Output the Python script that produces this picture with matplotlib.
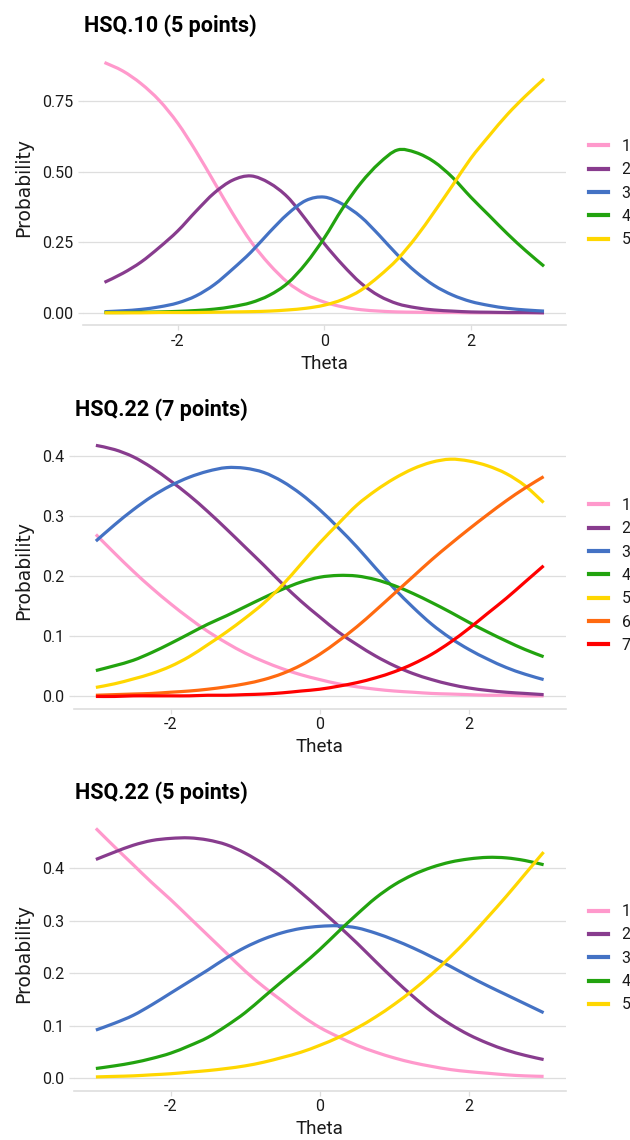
"""Category response curves (probability vs theta) for three HSQ items."""
import matplotlib
matplotlib.use("Agg")
import matplotlib.pyplot as plt
import numpy as np
from matplotlib.lines import Line2D
from matplotlib.path import Path
from matplotlib.patches import PathPatch

plt.rcParams['font.family'] = ['Roboto', 'DejaVu Sans']

# theta grid the curves were read at
theta = [-3.0, -2.75, -2.5, -2.25, -2.0, -1.75, -1.5, -1.25, -1.0, -0.75, -0.5, -0.25,
         0.0, 0.25, 0.5, 0.75, 1.0, 1.25, 1.5, 1.75, 2.0, 2.25, 2.5, 2.75, 3.0]

# HSQ.10 (5 points)
hsq10_c1 = [0.887, 0.857, 0.812, 0.752, 0.672, 0.572, 0.462, 0.352, 0.252, 0.172, 0.108, 0.065,
            0.038, 0.021, 0.011, 0.006, 0.003, 0.002, 0.001, 0.001, 0.0, 0.0, 0.0, 0.0, 0.0]
hsq10_c2 = [0.108, 0.14, 0.18, 0.232, 0.29, 0.36, 0.425, 0.47, 0.485, 0.46, 0.41, 0.33,
            0.245, 0.17, 0.105, 0.06, 0.032, 0.018, 0.01, 0.006, 0.003, 0.002, 0.001, 0.001, 0.0]
hsq10_c3 = [0.004, 0.007, 0.012, 0.021, 0.035, 0.06, 0.1, 0.155, 0.215, 0.285, 0.35, 0.398,
            0.41, 0.385, 0.34, 0.275, 0.205, 0.145, 0.097, 0.063, 0.04, 0.026, 0.016, 0.01, 0.006]
hsq10_c4 = [0.001, 0.001, 0.002, 0.003, 0.005, 0.008, 0.013, 0.022, 0.036, 0.062, 0.105, 0.175,
            0.265, 0.37, 0.46, 0.53, 0.577, 0.568, 0.535, 0.48, 0.41, 0.345, 0.28, 0.22, 0.165]
hsq10_c5 = [0.0, 0.0, 0.0, 0.001, 0.001, 0.001, 0.002, 0.003, 0.004, 0.006, 0.01, 0.016,
            0.027, 0.047, 0.08, 0.13, 0.19, 0.267, 0.357, 0.451, 0.547, 0.627, 0.703, 0.769, 0.829]

# HSQ.22 (7 points)
hsq22_7_c1 = [0.269, 0.238, 0.208, 0.18, 0.154, 0.13, 0.108, 0.089, 0.072, 0.058, 0.046, 0.036,
              0.028, 0.021, 0.016, 0.012, 0.009, 0.007, 0.005, 0.004, 0.003, 0.002, 0.002, 0.001, 0.001]
hsq22_7_c2 = [0.417, 0.41, 0.398, 0.38, 0.358, 0.334, 0.307, 0.278, 0.248, 0.218, 0.187, 0.158,
              0.132, 0.107, 0.086, 0.067, 0.051, 0.038, 0.028, 0.02, 0.014, 0.01, 0.007, 0.005, 0.003]
hsq22_7_c3 = [0.258, 0.285, 0.31, 0.332, 0.35, 0.364, 0.374, 0.38, 0.379, 0.372, 0.357, 0.336,
              0.31, 0.28, 0.248, 0.213, 0.179, 0.148, 0.12, 0.097, 0.078, 0.062, 0.048, 0.037, 0.028]
hsq22_7_c4 = [0.043, 0.051, 0.06, 0.073, 0.088, 0.104, 0.12, 0.134, 0.149, 0.164, 0.178, 0.19,
              0.198, 0.201, 0.2, 0.194, 0.184, 0.171, 0.156, 0.14, 0.123, 0.107, 0.092, 0.078, 0.066]
hsq22_7_c5 = [0.015, 0.021, 0.029, 0.038, 0.05, 0.066, 0.086, 0.107, 0.13, 0.155, 0.185, 0.22,
              0.255, 0.287, 0.318, 0.342, 0.362, 0.378, 0.389, 0.394, 0.391, 0.383, 0.37, 0.35, 0.322]
hsq22_7_c6 = [0.002, 0.003, 0.004, 0.005, 0.007, 0.009, 0.012, 0.016, 0.021, 0.028, 0.038, 0.052,
              0.07, 0.092, 0.116, 0.143, 0.171, 0.199, 0.227, 0.253, 0.278, 0.302, 0.325, 0.346, 0.365]
hsq22_7_c7 = [0.0, 0.0, 0.001, 0.001, 0.001, 0.001, 0.002, 0.002, 0.003, 0.004, 0.006, 0.009,
              0.012, 0.017, 0.023, 0.031, 0.041, 0.054, 0.07, 0.09, 0.113, 0.138, 0.163, 0.19, 0.217]

# HSQ.22 (5 points)
hsq22_5_c1 = [0.475, 0.44, 0.406, 0.372, 0.34, 0.306, 0.272, 0.238, 0.204, 0.174, 0.147, 0.12,
              0.097, 0.079, 0.063, 0.05, 0.039, 0.03, 0.023, 0.017, 0.013, 0.01, 0.007, 0.005, 0.004]
hsq22_5_c2 = [0.416, 0.43, 0.443, 0.452, 0.456, 0.457, 0.453, 0.444, 0.428, 0.407, 0.382, 0.353,
              0.322, 0.29, 0.257, 0.222, 0.188, 0.156, 0.127, 0.103, 0.083, 0.067, 0.054, 0.044, 0.036]
hsq22_5_c3 = [0.092, 0.105, 0.12, 0.14, 0.162, 0.184, 0.206, 0.229, 0.249, 0.265, 0.277, 0.285,
              0.289, 0.29, 0.286, 0.276, 0.263, 0.248, 0.231, 0.213, 0.194, 0.176, 0.159, 0.142, 0.125]
hsq22_5_c4 = [0.019, 0.024, 0.03, 0.038, 0.048, 0.062, 0.078, 0.1, 0.125, 0.155, 0.185, 0.214,
              0.245, 0.279, 0.312, 0.343, 0.368, 0.387, 0.401, 0.411, 0.417, 0.42, 0.419, 0.414, 0.406]
hsq22_5_c5 = [0.003, 0.004, 0.005, 0.007, 0.009, 0.012, 0.015, 0.019, 0.024, 0.031, 0.04, 0.05,
              0.063, 0.078, 0.096, 0.117, 0.141, 0.168, 0.198, 0.231, 0.267, 0.306, 0.346, 0.388, 0.43]

titles = ['HSQ.10 (5 points)', 'HSQ.22 (7 points)', 'HSQ.22 (5 points)']
category_colors = ['#FF99CC', '#883C8E', '#4472C4', '#22A30F', '#FFD700', '#FF6A10', '#FF0000']
x_ticks = [-2, 0, 2]
y_ticks_p1 = [0.0, 0.25, 0.5, 0.75]
y_labels_p1 = ['0.00', '0.25', '0.50', '0.75']
y_ticks_p23 = [0.0, 0.1, 0.2, 0.3, 0.4]
y_labels_p23 = ['0.0', '0.1', '0.2', '0.3', '0.4']

W, H = 630.0, 1140.0
grid_col = '#DEDEDE'
text_col = '#1A1A1A'

fig = plt.figure(figsize=(W / 100, H / 100), dpi=100)


def px_axes(left, top, right, bottom):
    # pixel box (from top-left) -> figure axes
    return fig.add_axes([left / W, 1 - bottom / H, (right - left) / W, (bottom - top) / H])


def smooth_path(x, y):
    # smooth (catmull-rom style bezier) line through the read points, like ggplot's dense curves
    p = np.column_stack([x, y])
    ext = np.vstack([p[0], p, p[-1]])
    verts = [p[0]]
    codes = [Path.MOVETO]
    for i in range(len(p) - 1):
        p0, p1, p2, p3 = ext[i], ext[i + 1], ext[i + 2], ext[i + 3]
        verts += [p1 + (p2 - p0) / 6.0, p2 - (p3 - p1) / 6.0, p2]
        codes += [Path.CURVE4] * 3
    return Path(verts, codes)


def draw_panel(ax, curves, yticks, ylabels, title, title_x, title_y, xlab_y, legend_y):
    ymax = max(max(c) for c in curves)
    for i, c in enumerate(curves):
        ax.add_patch(PathPatch(smooth_path(theta, c), fill=False, edgecolor=category_colors[i],
                               lw=2.3, capstyle='butt', joinstyle='round'))
    ax.set_xlim(-3.3, 3.3)
    ax.set_ylim(-0.05 * ymax, 1.05 * ymax)
    ax.set_xticks(x_ticks)
    ax.set_xticklabels([str(t) for t in x_ticks])
    ax.set_yticks(yticks)
    ax.set_yticklabels(ylabels)
    ax.grid(axis='y', color=grid_col, lw=0.9)
    ax.set_axisbelow(True)
    for s in ['top', 'right', 'left']:
        ax.spines[s].set_visible(False)
    ax.spines['bottom'].set_color(grid_col)
    ax.spines['bottom'].set_linewidth(1.2)
    ax.tick_params(axis='both', colors=grid_col, labelcolor=text_col, labelsize=11.5, length=3.6, width=0.9)
    ax.tick_params(axis='x', pad=2.5)
    ax.tick_params(axis='y', pad=3)
    # texts
    bb = ax.get_position()
    fig.text(title_x / W, 1 - title_y / H, title, fontsize=15.5, fontweight='bold', color='black',
             ha='left', va='center')
    fig.text((bb.x0 + bb.x1) / 2, 1 - xlab_y / H, 'Theta', fontsize=13.5, color=text_col,
             ha='center', va='center')
    fig.text(24 / W, (bb.y0 + bb.y1) / 2, 'Probability', fontsize=13.5, color=text_col,
             rotation=90, ha='center', va='center', family='DejaVu Sans')
    handles = [Line2D([], [], color=category_colors[i], lw=3.0) for i in range(len(curves))]
    ax.legend(handles, [str(i + 1) for i in range(len(curves))], loc='center left',
              bbox_to_anchor=(589 / W, 1 - legend_y / H), bbox_transform=fig.transFigure,
              frameon=False, fontsize=11.5, handlelength=1.2, handletextpad=0.85,
              labelspacing=0.52, borderpad=0, borderaxespad=0, labelcolor=text_col)


ax1 = px_axes(82.5, 50, 566, 325.3)
draw_panel(ax1, [hsq10_c1, hsq10_c2, hsq10_c3, hsq10_c4, hsq10_c5], y_ticks_p1, y_labels_p1,
           titles[0], 83.5, 26, 364, 193)

ax2 = px_axes(73.5, 432.8, 566, 709)
draw_panel(ax2, [hsq22_7_c1, hsq22_7_c2, hsq22_7_c3, hsq22_7_c4, hsq22_7_c5, hsq22_7_c6, hsq22_7_c7],
           y_ticks_p23, y_labels_p23, titles[1], 74.7, 410, 747, 575.5)

ax3 = px_axes(73.5, 815.9, 566, 1091)
draw_panel(ax3, [hsq22_5_c1, hsq22_5_c2, hsq22_5_c3, hsq22_5_c4, hsq22_5_c5],
           y_ticks_p23, y_labels_p23, titles[2], 74.7, 792.5, 1129, 958.3)

fig.savefig('out.png', dpi=100)
print("done")
